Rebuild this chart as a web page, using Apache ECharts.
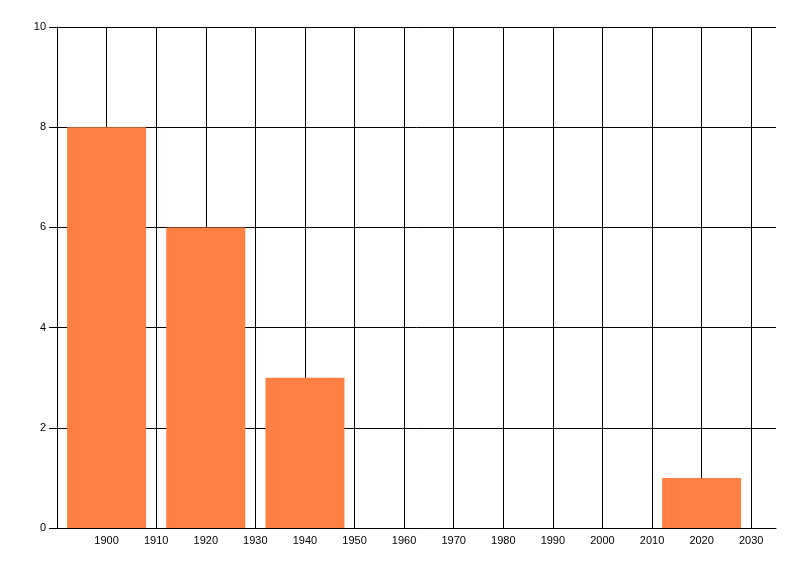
<!DOCTYPE html>
<html>
<head>
<meta charset="utf-8">
<script src="https://cdn.jsdelivr.net/npm/echarts@6/dist/echarts.min.js"></script>
<style>
  html, body { margin: 0; padding: 0; background: #fff; }
  #chart { width: 800px; height: 576px; }
</style>
</head>
<body>
<div id="chart"></div>
<script>
// years on the x axis and counts for each bar
var years = [1900, 1920, 1940, 2020];
var counts = [8, 6, 3, 1];

var chart = echarts.init(document.getElementById('chart'), null, { renderer: 'canvas' });

var axisFont = { fontFamily: 'Liberation Sans, Arial, sans-serif', fontSize: 11, color: '#000' };

var option = {
  animation: false,
  backgroundColor: '#fff',
  grid: { left: 57, right: 24, top: 27, bottom: 48, containLabel: false },
  xAxis: {
    type: 'value',
    min: 1890,
    max: 2035,
    interval: 10,
    axisLine: { show: true, lineStyle: { color: '#000', width: 1 } },
    axisTick: { show: false },
    axisLabel: Object.assign({
      margin: 7,
      showMaxLabel: false,
      formatter: function (v) { return v === 1890 ? '' : String(v); }
    }, axisFont),
    splitLine: { show: true, showMaxLine: false, lineStyle: { color: '#000', width: 1 } }
  },
  yAxis: {
    type: 'value',
    min: 0,
    max: 10,
    interval: 2,
    axisLine: { show: true, lineStyle: { color: '#000', width: 1 } },
    axisTick: { show: true, length: 8, lineStyle: { color: '#000' } },
    axisLabel: Object.assign({ margin: 11 }, axisFont),
    splitLine: { show: true, lineStyle: { color: '#000', width: 1 } }
  },
  series: [{
    type: 'bar',
    barWidth: 79,
    itemStyle: { color: '#FF8042' },
    data: years.map(function (y, i) { return [y, counts[i]]; })
  }]
};

chart.setOption(option);
</script>
</body>
</html>
